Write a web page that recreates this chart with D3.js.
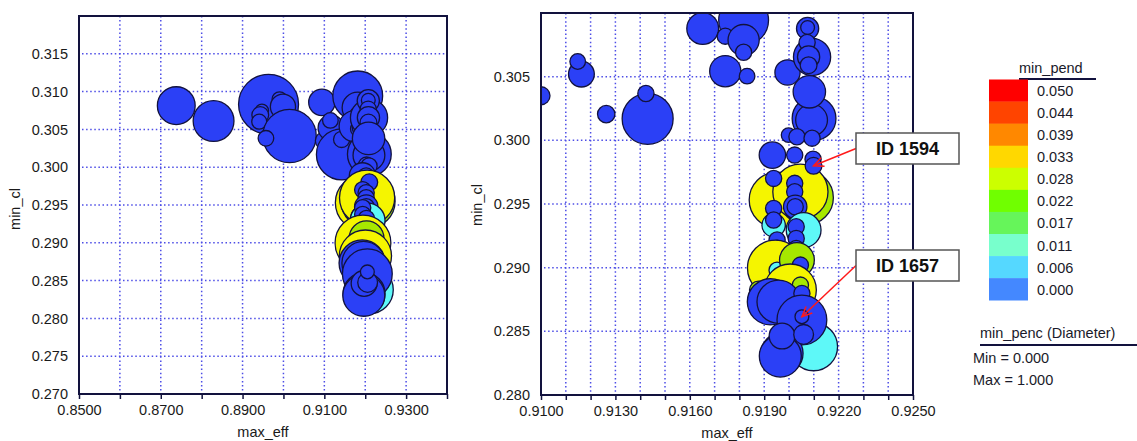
<!DOCTYPE html>
<html>
<head>
<meta charset="utf-8">
<script src="https://cdn.jsdelivr.net/npm/d3@7"></script>
<style>
  body { margin: 0; background: #fff; }
  svg { font-family: "Liberation Sans", Arial, sans-serif; }
</style>
</head>
<body>
<div id="graph"></div>
<script>
// one record per design, drawn in this order
const maxEff = [
  0.87379, 0.88291, 0.89636, 0.89474, 0.89433, 0.89408, 0.89905, 0.89988, 0.90149, 0.89572,
  0.90940, 0.91000, 0.91163, 0.91148, 0.91263, 0.91430, 0.91423, 0.91652, 0.91817, 0.91743,
  0.91817, 0.91817, 0.91743, 0.91831, 0.91994, 0.91998, 0.92093, 0.92075, 0.92075, 0.92073,
  0.92079, 0.92079, 0.92101, 0.92091, 0.92082, 0.92032, 0.92093, 0.92097, 0.91933, 0.92023,
  0.91952, 0.92070, 0.92046, 0.92099, 0.91938, 0.92023, 0.92023, 0.92025, 0.92025, 0.91938,
  0.92059, 0.91938, 0.91938, 0.92029, 0.92029, 0.92029, 0.91952, 0.91952, 0.91945, 0.91952,
  0.92032, 0.92046, 0.92005, 0.91877, 0.92046, 0.91925, 0.91958, 0.92052, 0.92099, 0.92052,
  0.91972, 0.91965, 0.91972, 0.92059, 0.92052
];
const minCl = [
  0.30814, 0.30611, 0.30832, 0.30747, 0.30690, 0.30602, 0.30898, 0.30800, 0.30413, 0.30382,
  0.30858, 0.30350, 0.30520, 0.30619, 0.30206, 0.30169, 0.30368, 0.30878, 0.30943, 0.30818,
  0.30787, 0.30692, 0.30543, 0.30504, 0.30533, 0.30041, 0.30655, 0.30878, 0.30886, 0.30768,
  0.30655, 0.30590, 0.30172, 0.30159, 0.30381, 0.30028, 0.30017, 0.29852, 0.29884, 0.29884,
  0.29531, 0.29550, 0.29596, 0.29800, 0.29701, 0.29662, 0.29596, 0.29478, 0.29478, 0.29334,
  0.29295, 0.29465, 0.29374, 0.29321, 0.29230, 0.29151, 0.29217, 0.29152, 0.28997, 0.28980,
  0.29060, 0.29020, 0.28824, 0.28824, 0.28863, 0.28732, 0.28732, 0.28798, 0.28379, 0.28589,
  0.28327, 0.28306, 0.28463, 0.28476, 0.28615
];
const minPend = [
  0, 0, 0, 0, 0, 0, 0, 0, 0, 0,
  0, 0, 0, 0, 0, 0, 0, 0, 0, 0,
  0, 0, 0, 0, 0, 0, 0, 0, 0, 0,
  0, 0, 0, 0, 0, 0, 0, 0, 0, 0,
  0.033, 0.028, 0.033, 0, 0, 0, 0, 0, 0, 0.006,
  0.006, 0, 0, 0, 0, 0, 0, 0, 0.033, 0.006,
  0.028, 0, 0.033, 0.028, 0.028, 0, 0, 0, 0.006, 0,
  0, 0, 0, 0, 0
];
const minPenc = [
  0.63, 0.68, 1.00, 0.22, 0.28, 0.25, 0.25, 0.42, 0.89, 0.26,
  0.44, 0.30, 0.43, 0.26, 0.29, 0.85, 0.27, 0.53, 0.83, 0.27,
  0.52, 0.27, 0.52, 0.26, 0.42, 0.24, 0.62, 0.37, 0.23, 0.27,
  0.37, 0.28, 0.73, 0.53, 0.54, 0.27, 0.27, 0.27, 0.44, 0.27,
  0.93, 0.90, 0.92, 0.28, 0.27, 0.27, 0.27, 0.39, 0.27, 0.39,
  0.58, 0.27, 0.27, 0.27, 0.27, 0.27, 0.27, 0.27, 0.93, 0.27,
  0.58, 0.27, 0.87, 0.30, 0.27, 0.77, 0.72, 0.27, 0.80, 0.83,
  0.70, 0.70, 0.43, 0.33, 0.23
];

const labelIds = ["ID 1594", "ID 1657"];
const labelEff = [0.92099, 0.92052];
const labelCl = [0.29800, 0.28615];

const legendValues = [0.050, 0.044, 0.039, 0.033, 0.028, 0.022, 0.017, 0.011, 0.006, 0.000];
const legendColors = ["#ff0000", "#ff4400", "#ff8800", "#ffd800", "#ccff00",
                      "#70ff00", "#66f55a", "#78ffcc", "#55d8ff", "#4488ff"];

const leftXTicks = [0.85, 0.86, 0.87, 0.88, 0.89, 0.90, 0.91, 0.92, 0.93, 0.94];
const leftXLabels = [0.85, 0.87, 0.89, 0.91, 0.93];
const leftYTicks = [0.270, 0.275, 0.280, 0.285, 0.290, 0.295, 0.300, 0.305, 0.310, 0.315];
const rightXTicks = [0.910, 0.911, 0.912, 0.913, 0.914, 0.915, 0.916, 0.917, 0.918,
                     0.919, 0.920, 0.921, 0.922, 0.923, 0.924, 0.925];
const rightXLabels = [0.910, 0.913, 0.916, 0.919, 0.922, 0.925];
const rightYTicks = [0.280, 0.285, 0.290, 0.295, 0.300, 0.305];

const points = maxEff.map((e, i) => ({ eff: e, cl: minCl[i], pend: minPend[i], penc: minPenc[i] }));

const svg = d3.select("#graph").append("svg")
  .attr("width", 1137)
  .attr("height", 441);

const navy = "#12123e";
const diam = d3.scaleLinear().domain([0, 1]).range([0, 60]);
const bubbleColor = d3.scaleThreshold()
  .domain([0.003, 0.0085, 0.014, 0.0195, 0.025, 0.0305, 0.036, 0.0415, 0.047])
  .range(["#2b40f6", "#5ef8f8", "#78ffcc", "#66f55a", "#70ff00",
          "#a6e800", "#f5f500", "#ff8800", "#ff4400", "#ff0000"]);

function drawPanel(p) {
  const x = d3.scaleLinear().domain(p.xDomain).range([p.left, p.right]);
  const y = d3.scaleLinear().domain(p.yDomain).range([p.bottom, p.top]);
  const g = svg.append("g");

  // dotted grid
  g.append("g").selectAll("line").data(p.xTicks.slice(1, -1)).join("line")
    .attr("x1", d => x(d)).attr("x2", d => x(d))
    .attr("y1", p.top).attr("y2", p.bottom)
    .attr("stroke", "#4d4de6").attr("stroke-width", 1.5)
    .attr("stroke-dasharray", "1.5,2.6");
  g.append("g").selectAll("line").data(p.yTicks.slice(1)).join("line")
    .attr("x1", p.left + 3).attr("x2", p.right)
    .attr("y1", d => y(d)).attr("y2", d => y(d))
    .attr("stroke", "#4d4de6").attr("stroke-width", 1.5)
    .attr("stroke-dasharray", "1.5,2.6");

  // bubbles
  const clipId = "clip" + p.name;
  svg.append("clipPath").attr("id", clipId).append("rect")
    .attr("x", p.left).attr("y", p.top)
    .attr("width", p.right - p.left).attr("height", p.bottom - p.top);
  g.append("g").attr("clip-path", "url(#" + clipId + ")")
    .selectAll("circle").data(points).join("circle")
    .attr("cx", d => x(d.eff))
    .attr("cy", d => y(d.cl))
    .attr("r", d => diam(d.penc) / 2)
    .attr("fill", d => bubbleColor(d.pend))
    .attr("stroke", navy)
    .attr("stroke-width", 1.3);

  // frame
  g.append("rect")
    .attr("x", p.left).attr("y", p.top)
    .attr("width", p.right - p.left).attr("height", p.bottom - p.top)
    .attr("fill", "none").attr("stroke", navy).attr("stroke-width", 2);

  // axes
  const xAxis = g.append("g")
    .attr("transform", "translate(0," + p.bottom + ")")
    .call(d3.axisBottom(x).tickValues(p.xTicks).tickSize(5).tickPadding(6)
      .tickFormat(d => p.xLabels.some(v => Math.abs(v - d) < 1e-9) ? d3.format(".4f")(d) : ""));
  const yAxis = g.append("g")
    .attr("transform", "translate(" + p.left + ",0)")
    .call(d3.axisLeft(y).tickValues(p.yTicks).tickSize(0).tickPadding(11)
      .tickFormat(d3.format(".3f")));
  [xAxis, yAxis].forEach(a => {
    a.select(".domain").remove();
    a.selectAll("line").attr("stroke", navy).attr("stroke-width", 1.5);
    a.selectAll("text").attr("fill", "#1a1a1a")
      .style("font-size", "14.5px")
      .style("font-family", "'Liberation Sans', Arial, sans-serif");
  });

  g.append("text")
    .attr("x", (p.left + p.right) / 2).attr("y", p.xTitleY)
    .attr("text-anchor", "middle").attr("fill", "#1a1a1a")
    .style("font-size", "14.5px").text("max_eff");
  g.append("text")
    .attr("transform", "translate(" + p.yTitleX + "," + p.yTitleMid + ")rotate(-90)")
    .attr("text-anchor", "middle").attr("fill", "#1a1a1a")
    .style("font-size", "14.5px").text("min_cl");

  return { x, y };
}

drawPanel({
  name: "L", left: 79, right: 447, top: 16, bottom: 394,
  xDomain: [0.85, 0.94], yDomain: [0.27, 0.32],
  xTicks: leftXTicks, xLabels: leftXLabels, yTicks: leftYTicks,
  xTitleY: 437, yTitleX: 20, yTitleMid: 209
});
const right = drawPanel({
  name: "R", left: 541, right: 913, top: 13, bottom: 395,
  xDomain: [0.910, 0.925], yDomain: [0.280, 0.310],
  xTicks: rightXTicks, xLabels: rightXLabels, yTicks: rightYTicks,
  xTitleY: 438, yTitleX: 482, yTitleMid: 205
});

// callouts
const boxY = [133, 250];
labelIds.forEach((id, i) => {
  const tx = right.x(labelEff[i]), ty = right.y(labelCl[i]);
  const sx = 856, sy = boxY[i] + 15.5;
  const ang = Math.atan2(sy - ty, sx - tx);
  const len = 11, spread = 0.42;
  svg.append("line")
    .attr("x1", sx).attr("y1", sy).attr("x2", tx).attr("y2", ty)
    .attr("stroke", "#ff1a1a").attr("stroke-width", 1.5);
  svg.append("path")
    .attr("d", "M" + (tx + len * Math.cos(ang + spread)) + "," + (ty + len * Math.sin(ang + spread)) +
               "L" + tx + "," + ty +
               "L" + (tx + len * Math.cos(ang - spread)) + "," + (ty + len * Math.sin(ang - spread)))
    .attr("fill", "none").attr("stroke", "#ff1a1a").attr("stroke-width", 1.5);
  svg.append("rect")
    .attr("x", 856).attr("y", boxY[i]).attr("width", 103).attr("height", 31)
    .attr("fill", "#fff").attr("stroke", "#555").attr("stroke-width", 1.5);
  svg.append("text")
    .attr("x", 907.5).attr("y", boxY[i] + 22)
    .attr("text-anchor", "middle").attr("fill", "#111")
    .style("font-size", "18px").style("font-weight", "bold")
    .text(id);
});

// colour legend
const leg = svg.append("g");
const swH = 22.07;
leg.append("text").attr("x", 1019).attr("y", 73).attr("fill", "#1a1a2a")
  .style("font-size", "14.5px").text("min_pend");
leg.append("line").attr("x1", 1019).attr("x2", 1096).attr("y1", 79).attr("y2", 79)
  .attr("stroke", navy).attr("stroke-width", 2);
leg.selectAll("rect.sw").data(legendValues).join("rect").attr("class", "sw")
  .attr("x", 989).attr("y", (d, i) => 79.5 + i * swH)
  .attr("width", 39).attr("height", swH + 0.3)
  .attr("fill", (d, i) => legendColors[i]);
leg.selectAll("text.lv").data(legendValues).join("text").attr("class", "lv")
  .attr("x", 1037).attr("y", (d, i) => 79.5 + i * swH + swH / 2 + 5.5)
  .attr("fill", "#1a1a2a").style("font-size", "14.5px")
  .text(d => d3.format(".3f")(d));

// size legend
leg.append("text").attr("x", 980).attr("y", 338).attr("fill", "#1a1a2a")
  .style("font-size", "14.5px").text("min_penc (Diameter)");
leg.append("line").attr("x1", 980).attr("x2", 1137).attr("y1", 345).attr("y2", 345)
  .attr("stroke", navy).attr("stroke-width", 2);
leg.append("text").attr("x", 973).attr("y", 363).attr("fill", "#1a1a2a")
  .style("font-size", "14.5px").text("Min = " + d3.format(".3f")(diam.domain()[0]));
leg.append("text").attr("x", 973).attr("y", 385).attr("fill", "#1a1a2a")
  .style("font-size", "14.5px").text("Max = " + d3.format(".3f")(diam.domain()[1]));
</script>
</body>
</html>
